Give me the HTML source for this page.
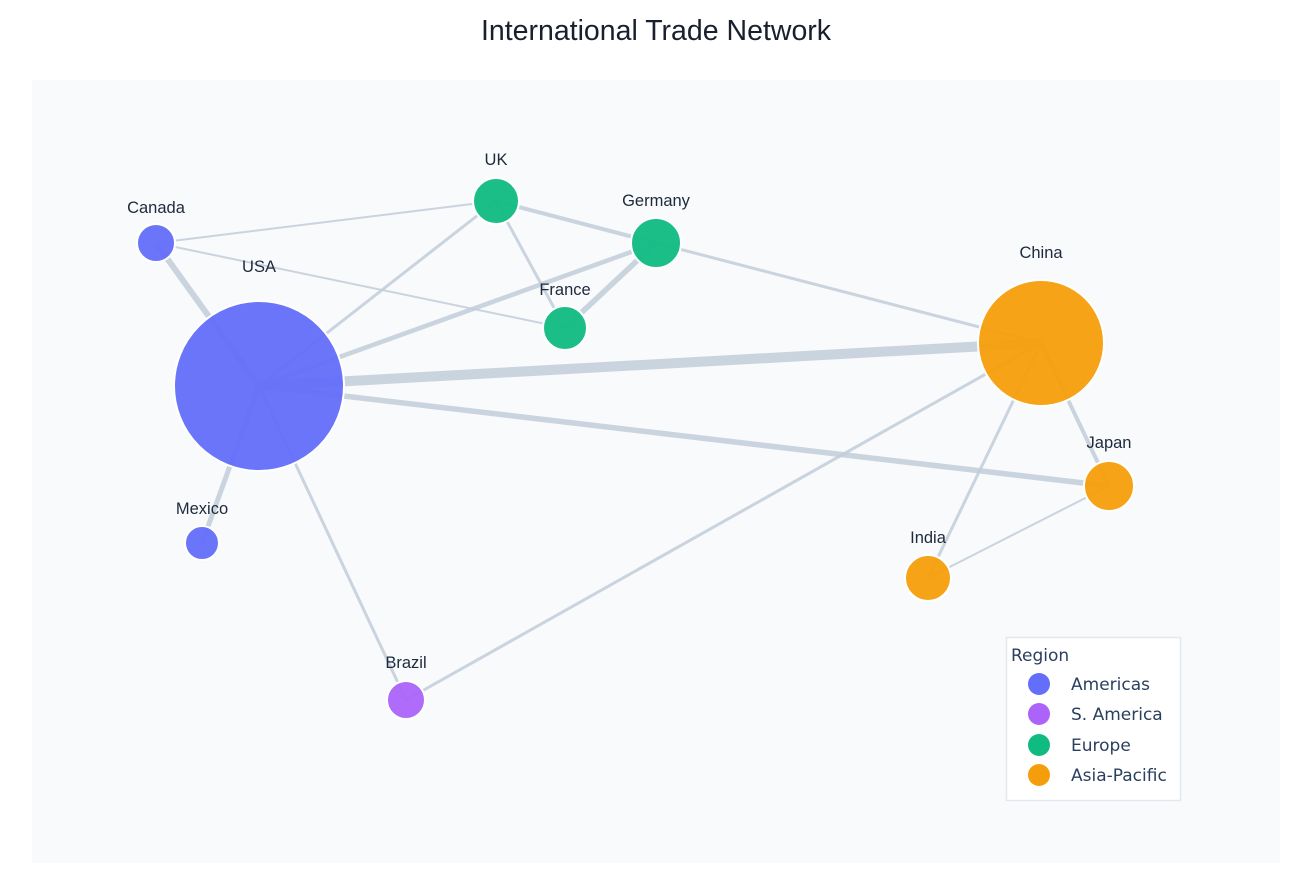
<!DOCTYPE html>
<html><head><meta charset="utf-8"><style>
html,body{margin:0;padding:0;background:#fff;}
svg{display:block;font-family:"Liberation Sans",Arial,sans-serif;}
</style></head><body>
<svg width="1312" height="896" viewBox="0 0 1312 896" xmlns="http://www.w3.org/2000/svg">
<rect x="0" y="0" width="1312" height="896" fill="#fff"/>
<text x="656" y="40" text-anchor="middle" font-size="28.5" fill="#1a1f2e">International Trade Network</text>
<rect x="32" y="80" width="1248" height="783" fill="#f8fafc"/>
<g stroke="#c2ccd8" stroke-opacity="0.85" stroke-linecap="butt" fill="none">
<line x1="156" y1="243" x2="259" y2="386" stroke-width="6"/>
<line x1="156" y1="243" x2="496" y2="201" stroke-width="2"/>
<line x1="156" y1="243" x2="565" y2="328" stroke-width="2"/>
<line x1="259" y1="386" x2="496" y2="201" stroke-width="3"/>
<line x1="259" y1="386" x2="656" y2="243" stroke-width="4.5"/>
<line x1="259" y1="386" x2="1041" y2="343" stroke-width="10"/>
<line x1="259" y1="386" x2="1109" y2="486" stroke-width="5.5"/>
<line x1="259" y1="386" x2="202" y2="543" stroke-width="5"/>
<line x1="259" y1="386" x2="406" y2="700" stroke-width="3"/>
<line x1="496" y1="201" x2="656" y2="243" stroke-width="4"/>
<line x1="496" y1="201" x2="565" y2="328" stroke-width="3"/>
<line x1="656" y1="243" x2="565" y2="328" stroke-width="5.5"/>
<line x1="656" y1="243" x2="1041" y2="343" stroke-width="3"/>
<line x1="1041" y1="343" x2="1109" y2="486" stroke-width="4"/>
<line x1="1041" y1="343" x2="928" y2="578" stroke-width="3"/>
<line x1="1109" y1="486" x2="928" y2="578" stroke-width="2"/>
<line x1="406" y1="700" x2="1041" y2="343" stroke-width="3"/>
</g>
<g stroke="#fff" stroke-width="2" fill-opacity="0.95">
<circle cx="259" cy="386" r="85" fill="#636efa"/>
<circle cx="156" cy="243" r="19" fill="#636efa"/>
<circle cx="202" cy="543" r="17" fill="#636efa"/>
<circle cx="406" cy="700" r="19" fill="#ab63fa"/>
<circle cx="496" cy="201" r="23" fill="#10bb82"/>
<circle cx="656" cy="243" r="25" fill="#10bb82"/>
<circle cx="565" cy="328" r="22" fill="#10bb82"/>
<circle cx="1041" cy="343" r="63" fill="#f59e0b"/>
<circle cx="1109" cy="486" r="25" fill="#f59e0b"/>
<circle cx="928" cy="578" r="23" fill="#f59e0b"/>
</g>
<g font-size="16.5" fill="#1e293b" text-anchor="middle">
<text x="259" y="272">USA</text>
<text x="156" y="213">Canada</text>
<text x="202" y="514">Mexico</text>
<text x="406" y="668">Brazil</text>
<text x="496" y="165">UK</text>
<text x="656" y="206">Germany</text>
<text x="565" y="295">France</text>
<text x="1041" y="258">China</text>
<text x="1109" y="448">Japan</text>
<text x="928" y="543">India</text>
</g>
<rect x="1006.5" y="637.5" width="174" height="163" fill="#fff" stroke="#e2e8f0" stroke-width="1.5"/>
<g font-size="17" fill="#2a3f5f" font-family="'DejaVu Sans',sans-serif">
<text x="1011" y="661">Region</text>
<circle cx="1039" cy="684" r="11" fill="#636efa"/><text x="1071" y="690">Americas</text>
<circle cx="1039" cy="714" r="11" fill="#ab63fa"/><text x="1071" y="720">S. America</text>
<circle cx="1039" cy="745" r="11" fill="#10bb82"/><text x="1071" y="751">Europe</text>
<circle cx="1039" cy="775" r="11" fill="#f59e0b"/><text x="1071" y="781">Asia-Pacific</text>
</g>
</svg>
</body></html>
